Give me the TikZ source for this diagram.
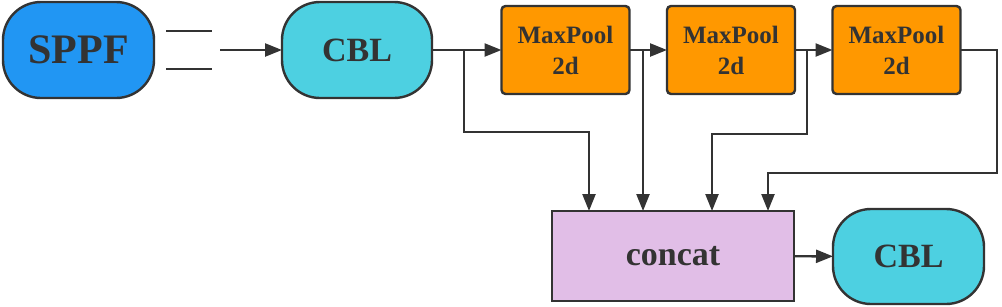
\documentclass[tikz,border=0pt]{standalone}
\usepackage{fontspec}
\setmainfont{Liberation Serif}
\usetikzlibrary{arrows.meta,positioning,calc}
\definecolor{sppfblue}{HTML}{2196F3}
\definecolor{cblcyan}{HTML}{4DD0E1}
\definecolor{poolorange}{HTML}{FF9800}
\definecolor{catpurple}{HTML}{E1BEE7}
\definecolor{linegray}{HTML}{333333}

\begin{document}
\begin{tikzpicture}[x=1pt,y=-1pt,>={Triangle[length=17pt,width=13pt]},
  box/.style={draw=linegray,line width=2.4pt,text=linegray,inner sep=0pt,outer sep=0pt},
  pill/.style={box,rounded corners=38pt,minimum width=151pt,minimum height=96pt},
  pool/.style={box,fill=poolorange,rounded corners=4pt,minimum width=128pt,minimum height=88pt,align=center,
    font=\fontsize{25}{31}\selectfont\bfseries},
  link/.style={line width=2.4pt,draw=linegray}]
  \useasboundingbox (0,0) rectangle (1002,306);
  % top row
  \node[pill,fill=sppfblue,font=\fontsize{42}{45}\selectfont\bfseries] (sppf) at (78.5,50) {SPPF};
  \node[pill,fill=cblcyan,minimum width=150pt,font=\fontsize{34}{36}\selectfont\bfseries] (cbl1) at (357,50) {CBL};
  \node[pool] (pool1) at (565.5,50) {MaxPool\\2d};
  \node[pool] (pool2) at (731,50) {MaxPool\\2d};
  \node[pool] (pool3) at (896.5,50) {MaxPool\\2d};
  % bottom row
  \node[box,fill=catpurple,minimum width=242pt,minimum height=90pt,font=\fontsize{34}{36}\selectfont\bfseries] (concat) at (673,256) {concat};
  \node[pill,fill=cblcyan,minimum height=95pt,font=\fontsize{34}{36}\selectfont\bfseries] (cbl2) at (908.5,256.5) {CBL};
  % "=" sign and input arrow
  \coordinate (eqa) at (166,31);
  \coordinate (eqb) at (166,69);
  \coordinate (in) at (220,50);
  \draw[link] (eqa) -- ++(46,0);
  \draw[link] (eqb) -- ++(46,0);
  \draw[link,->] (in) -- (cbl1);
  % main chain
  \draw[link,->] (cbl1) -- (pool1);
  \draw[link,->] (pool1) -- (pool2);
  \draw[link,->] (pool2) -- (pool3);
  \draw[link,->] (concat) -- (cbl2);
  % branches into concat
  \coordinate (b1) at (464,50);
  \coordinate (b2) at (643,50);
  \coordinate (b3) at (807,50);
  \coordinate (b4) at (997,50);
  \draw[link,->] (b1) -- (464,132) -| ([xshift=-84pt]concat.north);
  \draw[link,->] (b2) -- (b2 |- concat.north);
  \draw[link,->] (b3) -- (807,134) -| ([xshift=39pt]concat.north);
  \draw[link,->] (pool3.east) -- (b4) |- (800,173) -| ([xshift=95pt]concat.north);
\end{tikzpicture}
\end{document}
